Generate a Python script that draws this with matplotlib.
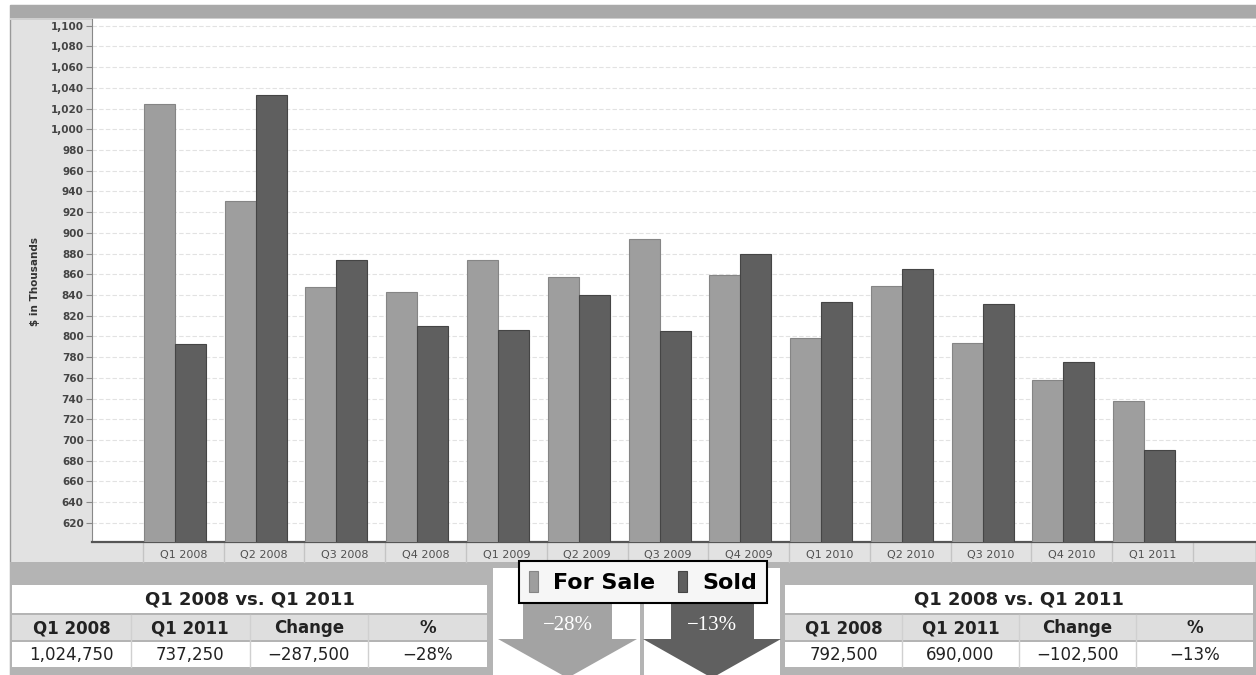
#!/usr/bin/env python3
# -*- coding: utf-8 -*-
"""Quarterly For Sale / Sold prices with Q1 2008 vs Q1 2011 summary tables."""

import numpy as np
import matplotlib
matplotlib.use("Agg")
import matplotlib.pyplot as plt
from matplotlib.patches import Rectangle, Polygon
from matplotlib.ticker import FuncFormatter

# ---- data ($ in thousands) ----
quarters = ["Q1 2008", "Q2 2008", "Q3 2008", "Q4 2008", "Q1 2009", "Q2 2009",
            "Q3 2009", "Q4 2009", "Q1 2010", "Q2 2010", "Q3 2010", "Q4 2010",
            "Q1 2011"]
for_sale = [1024.75, 931, 847.5, 843, 873.5, 857.5, 894, 859, 798.5, 848.5,
            793.5, 757.5, 737.25]
sold = [792.5, 1033.5, 873.5, 810.5, 806, 840, 805, 880, 833, 865, 831, 775,
        690.0]
series_names = ["For Sale", "Sold"]
table_title = "Q1 2008 vs. Q1 2011"
table_header = ["Q1 2008", "Q1 2011", "Change", "%"]

# ---- style ----
W, H = 1256, 675
C_SALE = "#9e9e9e"
C_SOLD = "#5f5f5f"
C_PANEL = "#e2e2e2"
C_DARK = "#b4b4b4"


def fx(px):
    return px / W


def fy(py):
    return 1 - py / H


def summary_row(series):
    start, end = series[0] * 1000, series[-1] * 1000
    change = end - start
    pct = round(change / start * 100)
    fmt = lambda v: f"{v:,.0f}".replace("-", "\u2212")
    return [fmt(start), fmt(end), fmt(change), f"{pct}%".replace("-", "\u2212")]


fig = plt.figure(figsize=(W / 100, H / 100), dpi=100)

# background in pixel coordinates
bg = fig.add_axes([0, 0, 1, 1], zorder=0)
bg.set_xlim(0, W)
bg.set_ylim(H, 0)
bg.axis("off")
bg.add_patch(Rectangle((10, 5), W - 10, H - 5, fc=C_PANEL, ec="#999999", lw=1))
bg.add_patch(Rectangle((10, 5), W - 10, 13, fc="#a9a9a9", ec="none"))
bg.add_patch(Rectangle((10, 18), W - 10, 2, fc="#cfcfcf", ec="none"))
bg.add_patch(Rectangle((10, 562), W - 10, H - 562, fc=C_DARK, ec="none"))

# ---- main chart ----
ax = fig.add_axes([fx(92), fy(542), fx(W - 92), (542 - 19) / H], zorder=1)
x = np.arange(len(quarters))
bw = 0.384
b1 = ax.bar(x - 0.296, for_sale, bw, color=C_SALE, edgecolor="#858585",
            lw=0.8, label=series_names[0], zorder=3)
b2 = ax.bar(x + 0.088, sold, bw, color=C_SOLD, edgecolor="#454545",
            lw=0.8, label=series_names[1], zorder=3)

ax.set_xlim(-1.13, 13.28)
ax.set_ylim(601.5, 1106.5)
ax.set_yticks(np.arange(620, 1101, 20))
ax.yaxis.set_major_formatter(FuncFormatter(lambda v, p: f"{v:,.0f}"))
ax.tick_params(axis="y", labelsize=7.5, labelcolor="#444444", length=4,
               color="#888888", pad=2)
for lab in ax.get_yticklabels():
    lab.set_fontweight("bold")
ax.set_xticks(x)
ax.set_xticklabels(quarters)
ax.tick_params(axis="x", length=0, labelsize=8, labelcolor="#505050", pad=6)
ax.grid(axis="y", color="#e2e2e2", lw=0.8, ls=(0, (4, 2)), zorder=0)
for s in ("top", "right"):
    ax.spines[s].set_visible(False)
ax.spines["left"].set_color("#888888")
ax.spines["bottom"].set_color("#555555")
ax.spines["bottom"].set_linewidth(1.6)

# category separators in the tick band
for b in np.arange(-0.5, len(quarters) + 0.5):
    ax.plot([b, b], [0, -0.038], transform=ax.get_xaxis_transform(),
            color="#c4c4c4", lw=1, clip_on=False)

fig.text(fx(35), fy(282), "$ in Thousands", rotation=90, ha="center",
         va="center", fontsize=7.5, fontweight="bold", color="#333333")

# ---- summary tables ----
def draw_table(x0, x1, series):
    y0 = 585
    bg.add_patch(Rectangle((x0, y0), x1 - x0, 28, fc="white", ec="none"))
    bg.add_patch(Rectangle((x0, 615), x1 - x0, 25, fc="#dedede", ec="none"))
    bg.add_patch(Rectangle((x0, 642), x1 - x0, 25, fc="white", ec="none"))
    bg.text((x0 + x1) / 2, 599.5, table_title, ha="center", va="center",
            fontsize=13, fontweight="bold", color="#222222")
    cw = (x1 - x0) / 4
    row = summary_row(series)
    for i in range(4):
        cx = x0 + cw * (i + 0.5)
        bg.text(cx, 628, table_header[i], ha="center", va="center",
                fontsize=12, fontweight="bold", color="#222222")
        bg.text(cx, 655, row[i], ha="center", va="center", fontsize=12,
                color="#222222")
        if i > 0:
            bg.plot([x0 + cw * i] * 2, [615, 667], color="#d0d0d0", lw=1)


draw_table(12, 487, for_sale)
draw_table(785, 1253, sold)

# ---- arrow panels ----
bg.add_patch(Rectangle((493, 568), 147, H - 568, fc="white", ec="none"))
bg.add_patch(Rectangle((644, 568), 136, H - 568, fc="white", ec="none"))


def draw_arrow(xl, xr, hl, hr, color, text):
    tip = (hl + hr) / 2
    pts = [(xl, 585), (xr, 585), (xr, 639), (hr, 639), (tip, 678),
           (hl, 639), (xl, 639)]
    bg.add_patch(Polygon(pts, closed=True, fc=color, ec="none"))
    bg.text(tip, 625, text, ha="center", va="center", fontsize=15,
            family="Liberation Serif", color="white")


draw_arrow(523, 612, 498, 637, "#a3a3a3", summary_row(for_sale)[3])
draw_arrow(671, 754, 643, 781, "#606060", summary_row(sold)[3])

# ---- legend ----
leg = fig.legend(handles=[b1, b2], loc="center",
                 bbox_to_anchor=(fx(643), fy(582)), ncol=2, frameon=True,
                 fancybox=False, edgecolor="black", facecolor="#f6f6f6",
                 framealpha=1, prop={"size": 16, "weight": "bold"},
                 handlelength=0.4, handleheight=1.1, handletextpad=0.7,
                 columnspacing=1.0, borderpad=0.45, borderaxespad=0)
leg.get_frame().set_linewidth(1.5)
leg.set_zorder(5)

fig.savefig("out.png", dpi=100)
